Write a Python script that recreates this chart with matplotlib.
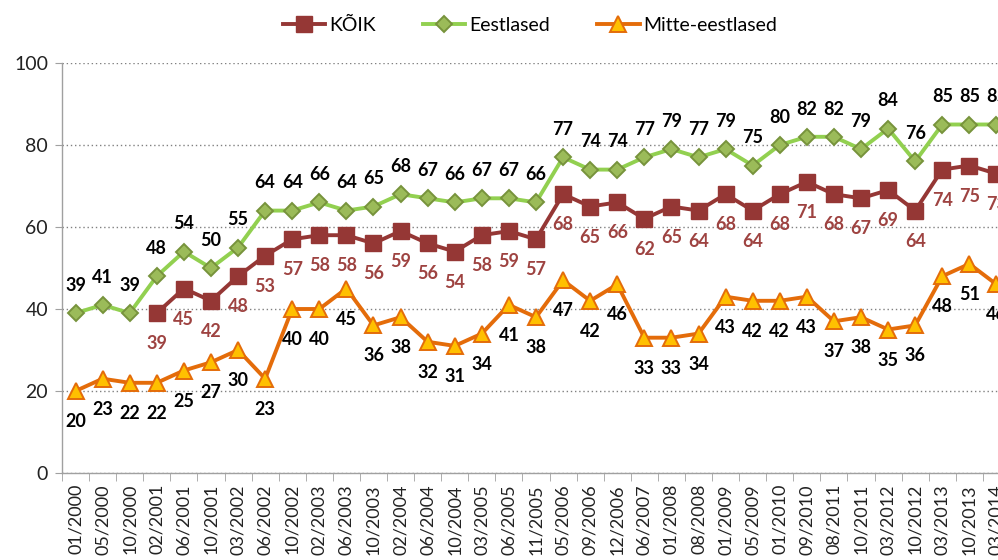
import matplotlib
matplotlib.use('Agg')
import matplotlib.pyplot as plt
from matplotlib.ticker import FixedLocator, NullFormatter

# ------------------------------------------------------------
# Andmed
# ------------------------------------------------------------
kuupaevad = ['01/2000', '05/2000', '10/2000', '02/2001', '06/2001', '10/2001',
             '03/2002', '06/2002', '10/2002', '02/2003', '06/2003', '10/2003',
             '02/2004', '06/2004', '10/2004', '03/2005', '06/2005', '11/2005',
             '05/2006', '09/2006', '12/2006', '06/2007', '01/2008', '08/2008',
             '01/2009', '05/2009', '01/2010', '09/2010', '08/2011', '10/2011',
             '03/2012', '10/2012', '03/2013', '10/2013', '03/2014']

eestlased = [39, 41, 39, 48, 54, 50, 55, 64, 64, 66, 64, 65, 68, 67, 66, 67, 67, 66,
             77, 74, 74, 77, 79, 77, 79, 75, 80, 82, 82, 79, 84, 76, 85, 85, 85]

# KÕIK algab 02/2001
koik_algus = 3
koik = [39, 45, 42, 48, 53, 57, 58, 58, 56, 59, 56, 54, 58, 59, 57, 68, 65, 66,
        62, 65, 64, 68, 64, 68, 71, 68, 67, 69, 64, 74, 75, 73]

mitte_eestlased = [20, 23, 22, 22, 25, 27, 30, 23, 40, 40, 45, 36, 38, 32, 31, 34, 41,
                   38, 47, 42, 46, 33, 33, 34, 43, 42, 42, 43, 37, 38, 35, 36, 48, 51, 46]

# ------------------------------------------------------------
# Stiil
# ------------------------------------------------------------
plt.rcParams.update({
    'font.family': ['Lato', 'DejaVu Sans'],
    'font.size': 12,
})

COR_KOIK = '#953735'
COR_KOIK_TXT = '#9E4341'
COR_EE_LINE = '#92D050'
COR_EE_FACE = '#9BBB59'
COR_EE_EDGE = '#77933C'
COR_ME_LINE = '#E46C0A'
COR_ME_FACE = '#FFC000'

fig = plt.figure(figsize=(9.98, 5.6), dpi=100)
W, H = 998, 560
ax = fig.add_axes([62 / W, 87 / H, (1010 - 62) / W, 410 / H])

x_all = list(range(len(kuupaevad)))
x_koik = x_all[koik_algus:]

ax.plot(x_koik, koik, color=COR_KOIK, lw=2.8, marker='s', ms=11,
        mfc=COR_KOIK, mec=COR_KOIK, label='KÕIK', zorder=4)
ax.plot(x_all, eestlased, color=COR_EE_LINE, lw=2.8, marker='D', ms=8,
        mfc=COR_EE_FACE, mec=COR_EE_EDGE, mew=1.4, label='Eestlased', zorder=3)
ax.plot(x_all, mitte_eestlased, color=COR_ME_LINE, lw=2.8, marker='^', ms=12,
        mfc=COR_ME_FACE, mec=COR_ME_LINE, mew=1.4, label='Mitte-eestlased', zorder=5)

# andmesildid
sildi_font = dict(ha='center', va='center', fontsize=13, fontweight='bold',
                  textcoords='offset points', annotation_clip=False)
for x, v in zip(x_all, eestlased):
    ax.annotate(str(v), (x, v), xytext=(0, 20), color='black', **sildi_font)
for x, v in zip(x_koik, koik):
    ax.annotate(str(v), (x, v), xytext=(0, -22), color=COR_KOIK_TXT, **sildi_font)
for x, v in zip(x_all, mitte_eestlased):
    ax.annotate(str(v), (x, v), xytext=(0, -22), color='black', **sildi_font)

# teljed
ax.set_xlim(-0.5, len(kuupaevad) - 0.5)
ax.set_ylim(0, 100)
ax.set_yticks([0, 20, 40, 60, 80, 100])
ax.tick_params(axis='y', direction='out', length=5, color='#A0A0A0',
               labelsize=14, labelcolor='#222222', pad=5)

ax.set_xticks(x_all)
ax.set_xticklabels(kuupaevad, rotation=90, fontsize=13, color='#222222')
ax.tick_params(axis='x', which='major', length=0, pad=8)
ax.xaxis.set_minor_locator(FixedLocator([i - 0.5 for i in range(len(kuupaevad) + 1)]))
ax.xaxis.set_minor_formatter(NullFormatter())
ax.tick_params(axis='x', which='minor', direction='out', length=6, color='#A0A0A0')

ax.grid(axis='y', color='#808080', linestyle=(0, (1, 2)), lw=1.0)
ax.set_axisbelow(True)
for s in ['top', 'right']:
    ax.spines[s].set_visible(False)
for s in ['left', 'bottom']:
    ax.spines[s].set_color('#A0A0A0')
    ax.spines[s].set_linewidth(1.0)

fig.legend(loc='center', bbox_to_anchor=(530 / W, 1 - 25 / H), ncol=3,
           frameon=False, fontsize=14, handlelength=2.2, columnspacing=2.4,
           handletextpad=0.2)

fig.savefig('out.png', dpi=100)
